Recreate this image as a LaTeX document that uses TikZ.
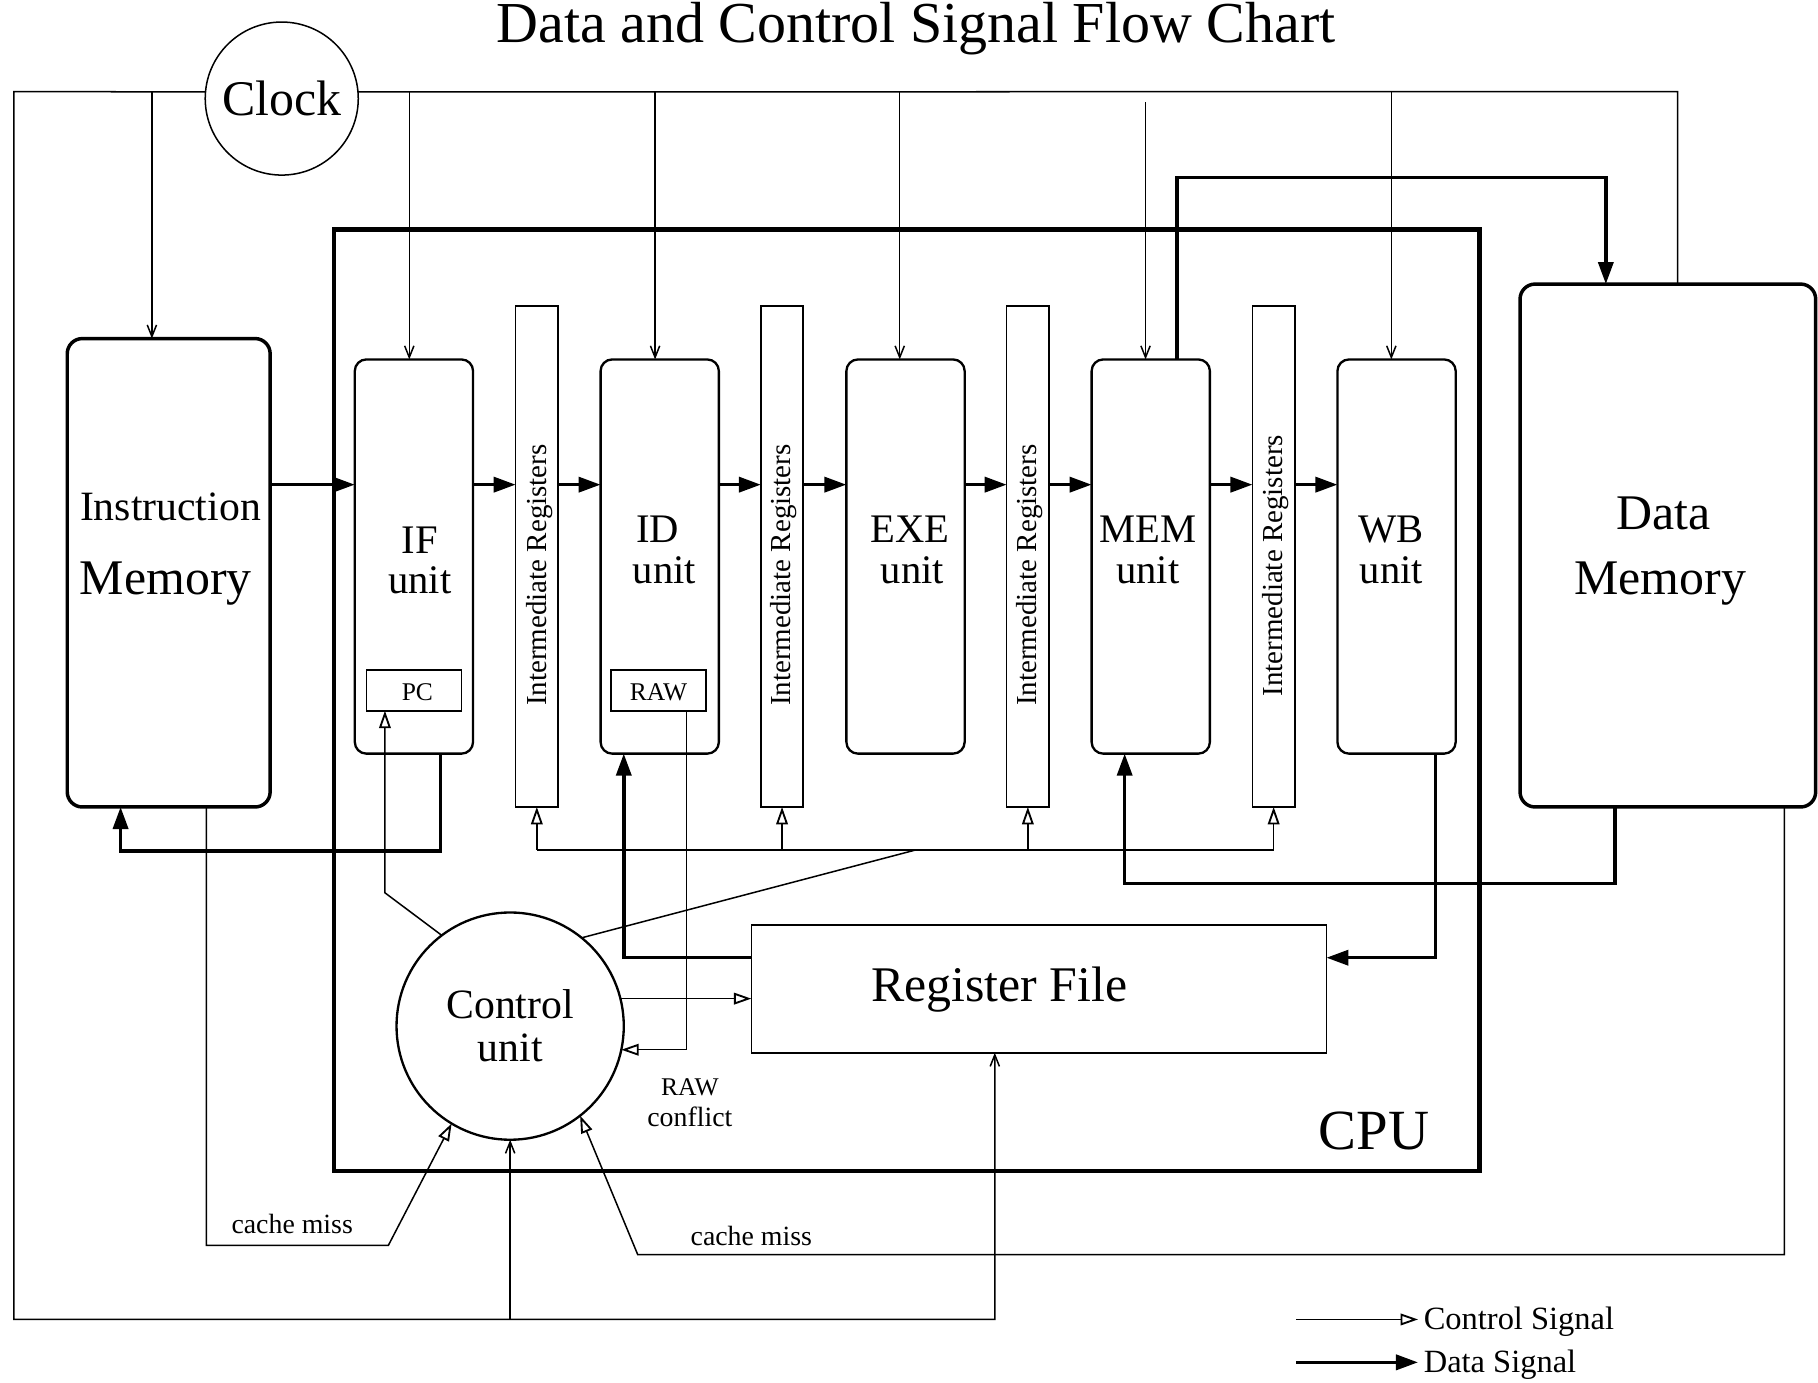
\documentclass[tikz,border=0pt]{standalone}
\usepackage{fontspec}
\setmainfont{Liberation Serif}
\usetikzlibrary{arrows.meta}
\newcommand{\myfs}[1]{\fontsize{#1}{#1}\selectfont}
\begin{document}
\begin{tikzpicture}[x=1pt,y=-1pt,
  every node/.style={inner sep=0pt, outer sep=0pt},
  unitbox/.style={draw, line width=2pt, rounded corners=10pt, minimum width=102pt, minimum height=340pt},
  membox/.style={draw, line width=3pt, rounded corners=13pt},
  regbox/.style={draw, line width=1.3pt, minimum width=36.5pt, minimum height=432pt},
  smallbox/.style={draw, line width=1.3pt, minimum width=82pt, minimum height=35pt},
  wire/.style={line width=1.3pt},
  data/.style={line width=3pt, -{Triangle[length=19pt,width=13pt]}},
  ctrl/.style={line width=1.3pt, -{Triangle[open,length=15pt,width=10pt,fill=white,line width=1.6pt]}},
  clk/.style={line width=1.3pt, -{Straight Barb[length=10pt,width=8pt,line width=1.3pt]}},
  utext/.style={anchor=base, font=\myfs{35}},
  rtext/.style={rotate=90, font=\myfs{25}},
  stext/.style={anchor=base, font=\myfs{24}}]
\useasboundingbox (0,0) rectangle (1568,1192);

% title
\node[anchor=base, font=\myfs{50}] (title) at (790,37) {Data and Control Signal Flow Chart};

% CPU frame
\node[draw, line width=4pt, minimum width=988pt, minimum height=812pt] (cpu) at (782,604) {};
\node[anchor=base, font=\myfs{49}] (cputext) at (1185,991) {CPU};

% memories
\node[membox, minimum width=175pt, minimum height=404pt] (im) at (145.5,494) {};
\node[anchor=base, font=\myfs{36}] (imt1) at (147,449) {Instruction};
\node[anchor=base, font=\myfs{43}] (imt2) at (143,513) {Memory};
\node[membox, minimum width=255pt, minimum height=451pt] (dm) at (1438.5,470.5) {};
\node[anchor=base, font=\myfs{43}] (dmt1) at (1435,457) {Data};
\node[anchor=base, font=\myfs{43}] (dmt2) at (1432,513) {Memory};

% pipeline units
\node[unitbox] (ifu) at (357,480) {};
\node[unitbox] (idu) at (569,480) {};
\node[unitbox] (exeu) at (781,480) {};
\node[unitbox] (memu) at (992.5,480) {};
\node[unitbox] (wbu) at (1204.5,480) {};
\node[utext] (ift1) at (362,477) {IF};
\node[utext] (ift2) at (362,512) {unit};
\node[utext] (idt1) at (567,468) {ID};
\node[utext] (idt2) at (573,503) {unit};
\node[utext] (ext1) at (785,468) {EXE};
\node[utext] (ext2) at (787,503) {unit};
\node[utext] (mmt1) at (990,468) {MEM};
\node[utext] (mmt2) at (990,503) {unit};
\node[utext] (wbt1) at (1200,468) {WB};
\node[utext] (wbt2) at (1200,503) {unit};

\node[smallbox] (pc) at (357,595.5) {};
\node[anchor=base, font=\myfs{22}] (pct) at (360,604) {PC};
\node[smallbox] (raw) at (568,595.5) {};
\node[anchor=base, font=\myfs{22}] (rawt) at (568,604) {RAW};

% intermediate registers
\node[regbox] (r1) at (463,480) {};
\node[regbox] (r2) at (674.5,480) {};
\node[regbox] (r3) at (886.5,480) {};
\node[regbox] (r4) at (1098.5,480) {};
\node[rtext] (r1t) at (465,496) {Intermediate Registers};
\node[rtext] (r2t) at (676,496) {Intermediate Registers};
\node[rtext] (r3t) at (888,496) {Intermediate Registers};
\node[rtext] (r4t) at (1100,488) {Intermediate Registers};

% register file
\node[draw, line width=1.3pt, minimum width=496pt, minimum height=110pt] (rf) at (896,853) {};
\node[anchor=base, font=\myfs{43}] (rft) at (862,864) {Register File};

% control unit and clock
\node[draw, circle, line width=2pt, minimum size=196pt, align=center, font=\fontsize{36}{37}\selectfont] (cu) at (440,885) {Control\\unit};
\node[draw, circle, line width=1.3pt, minimum size=132pt, font=\myfs{43}] (clock) at (243,85) {Clock};

% coordinates
\coordinate (dy) at (0,418);
\coordinate (md1) at (1015,153);
\coordinate (md2) at (1385,153);
\coordinate (dmm1) at (1393,762);
\coordinate (dmm2) at (970,762);
\coordinate (wr1) at (1238,826);
\coordinate (fi1) at (380,734);
\coordinate (fi2) at (104,734);
\coordinate (ri1) at (538,826);
\coordinate (cp1) at (332,770);
\coordinate (bus) at (790,733);
\coordinate (busy) at (0,733);
\coordinate (rwx) at (592,0);
\coordinate (cl1) at (178,1074);
\coordinate (cl2) at (335,1074);
\coordinate (cr1) at (1539,1082);
\coordinate (cr2) at (550,1082);
\coordinate (ckl) at (12,79);
\coordinate (cbl) at (12,1138);
\coordinate (cbr) at (858,1138);
\coordinate (ckr) at (1447,79);
\coordinate (d1) at (131,79);
\coordinate (d2) at (353,79);
\coordinate (d3) at (565,79);
\coordinate (d4) at (776,79);
\coordinate (d5) at (988,88);
\coordinate (d6) at (1200,79);

% data signals
\draw[data] (im.east |- dy) -- (ifu.west |- dy);
\draw[data] (ifu.east |- dy) -- (r1.west |- dy);
\draw[data] (r1.east |- dy) -- (idu.west |- dy);
\draw[data] (idu.east |- dy) -- (r2.west |- dy);
\draw[data] (r2.east |- dy) -- (exeu.west |- dy);
\draw[data] (exeu.east |- dy) -- (r3.west |- dy);
\draw[data] (r3.east |- dy) -- (memu.west |- dy);
\draw[data] (memu.east |- dy) -- (r4.west |- dy);
\draw[data] (r4.east |- dy) -- (wbu.west |- dy);
\draw[data] (memu.north -| md1) -- (md1) -- (md2) -- (dm.north -| md2);
\draw[data] (dm.south -| dmm1) -- (dmm1) -- (dmm2) -- (memu.south -| dmm2);
\draw[data] (wbu.south -| wr1) -- (wr1) -- (wr1 -| rf.east);
\draw[data] (ifu.south -| fi1) -- (fi1) -- (fi2) -- (im.south -| fi2);
\draw[data] (ri1 -| rf.west) -- (ri1) -- (idu.south -| ri1);

% control signals
\draw[ctrl] (cu.127) -- (cp1) -- (pc.south -| cp1);
\draw[wire] (cu.51) -- (bus);
\draw[wire] (r1.south |- busy) -- (r4.south |- busy);
\foreach \rr in {r1,r2,r3,r4} \draw[ctrl] (\rr.south |- busy) -- (\rr.south);
\draw[ctrl] (cu.14) -- (cu.14 -| rf.west);
\draw[ctrl] (raw.south -| rwx) |- (cu.-12);
\draw[ctrl] (im.south -| cl1) -- (cl1) -- (cl2) -- (cu.239);
\draw[ctrl] (dm.south -| cr1) -- (cr1) -- (cr2) -- (cu.308);
\node[anchor=base, font=\myfs{22}] (rawc1) at (595,945) {RAW};
\node[stext] (rawc2) at (595,972) {conflict};
\node[stext] (cm1) at (252,1064) {cache miss};
\node[stext] (cm2) at (648,1074) {cache miss};

% clock distribution
\draw[clk] (clock.175) -- (ckl) -- (cbl) -- (cbr) -- (rf.south -| cbr);
\draw[clk] (cbl -| cu.south) -- (cu.south);
\draw[wire] (clock.5) -- (ckr) -- (dm.north -| ckr);
\draw[clk] (d1) -- (im.north -| d1);
\draw[clk] (d2) -- (ifu.north -| d2);
\draw[clk] (d3) -- (idu.north -| d3);
\draw[clk] (d4) -- (exeu.north -| d4);
\draw[clk] (d5) -- (memu.north -| d5);
\draw[clk] (d6) -- (wbu.north -| d6);

% legend
\node[anchor=base west, font=\myfs{28}] (lc) at (1228,1147) {Control Signal};
\node[anchor=base west, font=\myfs{28}] (ld) at (1228,1184) {Data Signal};
\coordinate (lca) at (1118,1138);
\coordinate (lda) at (1118,1175);
\draw[ctrl] (lca) -- ([xshift=-5pt]lca -| lc.west);
\draw[data] (lda) -- ([xshift=-5pt]lda -| ld.west);
\end{tikzpicture}
\end{document}
